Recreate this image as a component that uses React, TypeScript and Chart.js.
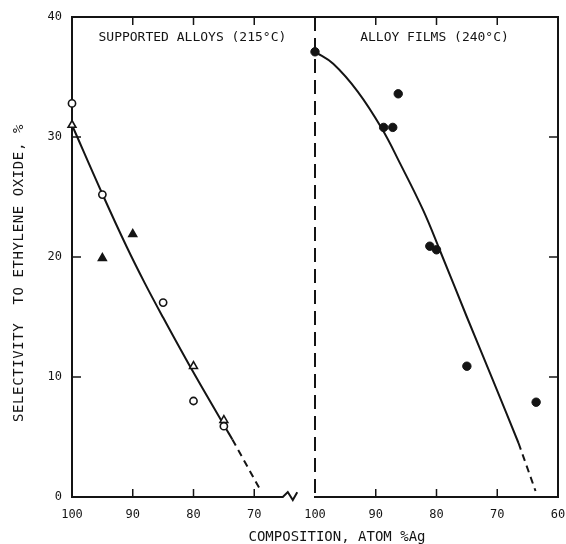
import React, { useEffect, useRef } from "react";
import { Chart, registerables } from "chart.js";

Chart.register(...registerables);

// ---- tick labels ----
const leftTickLabels = [100, 90, 80, 70];
const rightTickLabels = [100, 90, 80, 70, 60];
const yTickValues = [0, 10, 20, 30, 40];

// ---- supported alloys (215 C) ----
const supportedCircleX = [100, 95, 85, 80, 75];
const supportedCircleY = [32.8, 25.2, 16.2, 8.0, 5.9];
const supportedTriangleX = [100, 95, 90, 80, 75];
const supportedTriangleY = [31.0, 19.9, 21.9, 10.9, 6.4];
const supportedFitX = [100, 95, 91, 88, 85, 80.7, 75, 73.6];
const supportedFitY = [31.0, 25.25, 20.85, 17.8, 14.95, 11.0, 6.0, 4.8];
const supportedFitDashX = [73.6, 68.9];
const supportedFitDashY = [4.8, 0.5];

// ---- alloy films (240 C) ----
const filmX = [100, 86.3, 88.7, 87.2, 81.1, 80.0, 75.0, 63.6];
const filmY = [37.1, 33.6, 30.8, 30.8, 20.9, 20.6, 10.9, 7.9];
const filmFitX = [100, 97, 93, 89, 86, 82.2, 79.4, 75, 70.6, 66.5];
const filmFitY = [37.1, 36.1, 33.8, 30.7, 27.8, 23.9, 20.5, 15.0, 9.6, 4.5];
const filmFitDashX = [66.5, 63.7];
const filmFitDashY = [4.5, 0.5];

// ---- layout of the broken axis (in axis units) ----
const RIGHT_OFFSET = 40;
const AXIS_MAX = 80;
const BREAK_AT = 34.7;

const INK = "#141414";
const FONT = "'DejaVu Sans Mono', monospace";

const toLeft = (c: number) => 100 - c;
const toRight = (c: number) => RIGHT_OFFSET + 100 - c;

const pts = (xs: number[], ys: number[], f: (c: number) => number) =>
  xs.map((v, i) => ({ x: f(v), y: ys[i] }));

const tickMap = new Map<number, string>();
leftTickLabels.forEach((c) => tickMap.set(toLeft(c), String(c)));
rightTickLabels.forEach((c) => tickMap.set(toRight(c), String(c)));
const xTickPositions = Array.from(tickMap.keys()).sort((a, b) => a - b);

const framePlugin = {
  id: "frame",
  beforeDatasetsDraw(chart: any) {
    const { ctx, scales } = chart;
    const xs = scales.x, ys = scales.y;
    const X = (u: number) => xs.getPixelForValue(u);
    const Y = (v: number) => ys.getPixelForValue(v);
    const top = Y(40), bot = Y(0), l = X(0), r = X(AXIS_MAX), mid = X(RIGHT_OFFSET), brk = X(BREAK_AT);
    ctx.save();
    ctx.strokeStyle = INK;
    ctx.lineWidth = 2;
    ctx.lineCap = "square";
    ctx.lineJoin = "miter";
    ctx.beginPath();
    ctx.moveTo(l, bot); ctx.lineTo(l, top); ctx.lineTo(r, top); ctx.lineTo(r, bot);
    ctx.stroke();
    ctx.beginPath();
    ctx.moveTo(l, bot); ctx.lineTo(brk, bot);
    ctx.lineTo(brk + 5, bot - 5); ctx.lineTo(brk + 10, bot + 3); ctx.lineTo(brk + 14, bot - 4);
    ctx.moveTo(mid, bot); ctx.lineTo(r, bot);
    ctx.stroke();
    // inward ticks
    ctx.lineWidth = 1.5;
    ctx.lineCap = "butt";
    ctx.beginPath();
    [10, 20, 30].forEach((v) => {
      ctx.moveTo(l, Y(v)); ctx.lineTo(l + 9, Y(v));
      ctx.moveTo(r, Y(v)); ctx.lineTo(r - 9, Y(v));
    });
    xTickPositions.forEach((u) => {
      if (u <= 0 || u >= AXIS_MAX || u === RIGHT_OFFSET) return;
      ctx.moveTo(X(u), top); ctx.lineTo(X(u), top + 8);
      ctx.moveTo(X(u), bot); ctx.lineTo(X(u), bot - 8);
    });
    ctx.stroke();
    // dashed divider
    ctx.lineWidth = 2;
    ctx.setLineDash([14, 7]);
    ctx.beginPath();
    ctx.moveTo(mid, top); ctx.lineTo(mid, bot);
    ctx.stroke();
    ctx.restore();
  },
  afterDraw(chart: any) {
    const { ctx, scales } = chart;
    const xs = scales.x, ys = scales.y;
    const X = (u: number) => xs.getPixelForValue(u);
    const Y = (v: number) => ys.getPixelForValue(v);
    ctx.save();
    ctx.fillStyle = INK;
    ctx.textAlign = "center";
    ctx.textBaseline = "middle";
    ctx.font = `13px ${FONT}`;
    ctx.fillText("SUPPORTED ALLOYS (215°C)", (X(0) + X(BREAK_AT)) / 2 + 15, Y(40) + 21);
    ctx.fillText("ALLOY FILMS (240°C)", (X(RIGHT_OFFSET) + X(AXIS_MAX)) / 2 - 2, Y(40) + 21);
    ctx.font = `14px ${FONT}`;
    ctx.fillText("COMPOSITION, ATOM %Ag", 337, 537);
    ctx.translate(19, 273);
    ctx.rotate(-Math.PI / 2);
    (ctx as any).letterSpacing = "0.6px";
    ctx.fillText("SELECTIVITY  TO ETHYLENE OXIDE, %", 0, 0);
    ctx.restore();
  },
};

export default function App() {
  const ref = useRef<HTMLCanvasElement | null>(null);
  useEffect(() => {
    if (!ref.current) return;
    Chart.defaults.font.family = FONT;
    const lineBase = {
      showLine: true,
      pointRadius: 0,
      borderColor: INK,
      borderWidth: 2,
      clip: false,
      order: 1,
    };
    const chart = new Chart(ref.current, {
      type: "scatter",
      data: {
        datasets: [
          {
            label: "supported circles",
            data: pts(supportedCircleX, supportedCircleY, toLeft),
            pointStyle: "circle",
            pointRadius: 3.6,
            pointBorderWidth: 1.6,
            pointBackgroundColor: "#ffffff",
            pointBorderColor: INK,
            showLine: false,
            clip: false,
            order: 0,
          },
          {
            label: "supported triangles",
            data: pts(supportedTriangleX, supportedTriangleY, toLeft),
            pointStyle: "triangle",
            pointRadius: 4.5,
            pointBorderWidth: 1.6,
            pointBackgroundColor: ["#ffffff", INK, INK, "#ffffff", "#ffffff"],
            pointBorderColor: INK,
            showLine: false,
            clip: false,
            order: 0,
          },
          {
            label: "films",
            data: pts(filmX, filmY, toRight),
            pointStyle: "circle",
            pointRadius: 4.2,
            pointBorderWidth: 1,
            pointBackgroundColor: INK,
            pointBorderColor: INK,
            showLine: false,
            clip: false,
            order: 0,
          },
          {
            ...lineBase,
            label: "supported fit",
            data: pts(supportedFitX, supportedFitY, toLeft),
            tension: 0.4,
          },
          {
            ...lineBase,
            label: "supported fit ext",
            data: pts(supportedFitDashX, supportedFitDashY, toLeft),
            borderDash: [7, 5],
          },
          {
            ...lineBase,
            label: "film fit",
            data: pts(filmFitX, filmFitY, toRight),
            tension: 0.4,
          },
          {
            ...lineBase,
            label: "film fit ext",
            data: pts(filmFitDashX, filmFitDashY, toRight),
            borderDash: [7, 5],
          },
        ] as any,
      },
      options: {
        animation: false,
        responsive: false,
        devicePixelRatio: 1,
        layout: { padding: { left: 0, right: 8, top: 17, bottom: 0 } },
        plugins: { legend: { display: false }, tooltip: { enabled: false } },
        scales: {
          x: {
            type: "linear",
            min: 0,
            max: AXIS_MAX,
            grid: { display: false, drawTicks: false },
            border: { display: false },
            afterBuildTicks: (s: any) => {
              s.ticks = xTickPositions.map((v) => ({ value: v }));
            },
            afterFit: (s: any) => {
              s.height = 47;
              s.paddingLeft = 0;
              s.paddingRight = 0;
            },
            ticks: {
              padding: 11,
              maxRotation: 0,
              autoSkip: false,
              color: INK,
              font: { size: 12, family: FONT },
              callback: (v: any) => tickMap.get(Number(v)) ?? "",
            },
          },
          y: {
            type: "linear",
            min: 0,
            max: 40,
            grid: { display: false, drawTicks: false },
            border: { display: false },
            afterBuildTicks: (s: any) => {
              s.ticks = yTickValues.map((v) => ({ value: v }));
            },
            afterFit: (s: any) => {
              s.width = 72;
              s.paddingTop = 0;
              s.paddingBottom = 0;
            },
            ticks: {
              padding: 10,
              color: INK,
              font: { size: 12, family: FONT },
            },
          },
        },
      },
      plugins: [framePlugin],
    });
    return () => chart.destroy();
  }, []);
  return (
    <div style={{ position: "absolute", left: 0, top: 0, width: 566, height: 544, background: "#fff" }}>
      <canvas ref={ref} width={566} height={544} />
    </div>
  );
}
